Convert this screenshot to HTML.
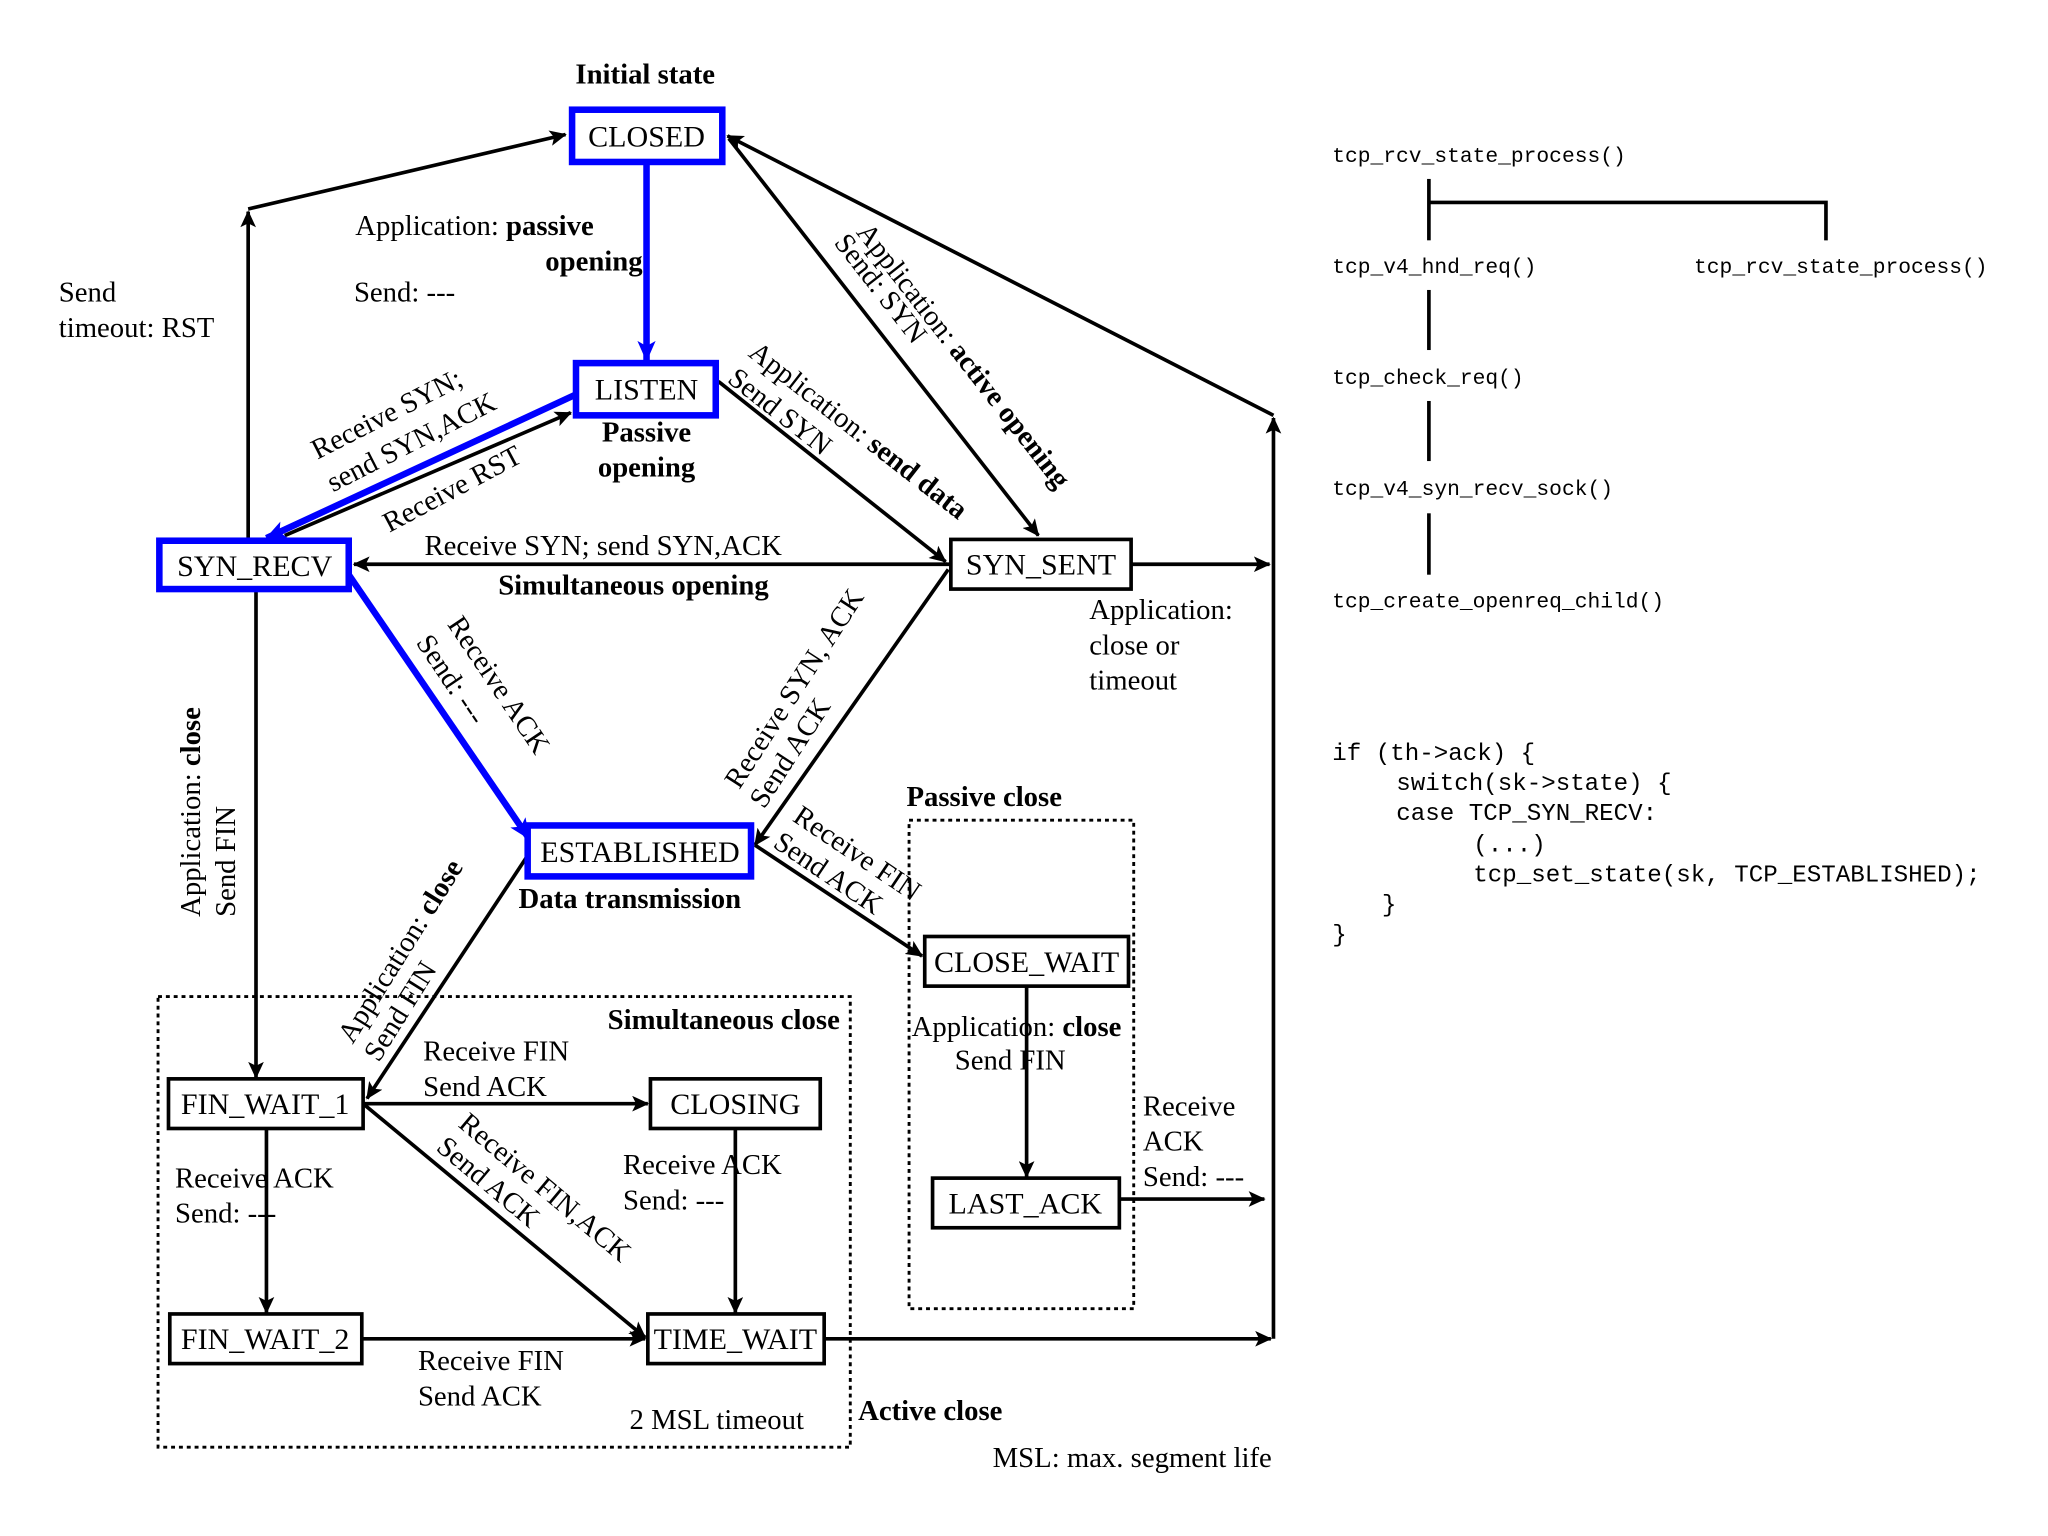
<!DOCTYPE html>
<html><head><meta charset="utf-8"><style>
html,body{margin:0;padding:0;background:#fff;}
svg{display:block;}
text{font-family:"Liberation Serif","Times New Roman",serif;font-size:22px;fill:#000;}
.b{font-weight:bold;}
.st{font-size:23px;}
.m{font-family:"Liberation Mono",monospace;font-size:16.3px;}
.c{font-family:"Liberation Mono",monospace;font-size:18.5px;}
</style></head><body>
<svg width="2048" height="1536" viewBox="0 0 1568 1176" xmlns="http://www.w3.org/2000/svg">
<defs>
<marker id="a" markerWidth="13" markerHeight="12" refX="12" refY="6" orient="auto" markerUnits="userSpaceOnUse"><path d="M0,0 L13,6 L0,12 L3,6 z" fill="#000"/></marker>
<marker id="ab" markerWidth="16" markerHeight="14" refX="15" refY="7" orient="auto" markerUnits="userSpaceOnUse"><path d="M0,0 L16,7 L0,14 L4,7 z" fill="#00f"/></marker>
</defs>
<g stroke="#000" stroke-width="2.8" fill="none">
<line x1="190" y1="414" x2="190" y2="162" marker-end="url(#a)"/>
<line x1="190" y1="160" x2="433" y2="103" marker-end="url(#a)"/>
<line x1="218" y1="410" x2="437" y2="316" marker-end="url(#a)"/>
<line x1="550" y1="292" x2="724" y2="430" marker-end="url(#a)"/>
<line x1="558" y1="106" x2="795" y2="410" marker-end="url(#a)"/>
<line x1="975" y1="318" x2="557" y2="104" marker-end="url(#a)"/>
<line x1="975" y1="1025" x2="975" y2="320" marker-end="url(#a)"/>
<line x1="866" y1="432" x2="972" y2="432" marker-end="url(#a)"/>
<line x1="728" y1="432" x2="271" y2="432" marker-end="url(#a)"/>
<line x1="726" y1="436" x2="578" y2="647" marker-end="url(#a)"/>
<line x1="578" y1="647" x2="706" y2="732" marker-end="url(#a)"/>
<line x1="404" y1="655" x2="281" y2="841" marker-end="url(#a)"/>
<line x1="196" y1="451" x2="196" y2="825" marker-end="url(#a)"/>
<line x1="278" y1="845" x2="496" y2="845" marker-end="url(#a)"/>
<line x1="278" y1="845" x2="494" y2="1024" marker-end="url(#a)"/>
<line x1="204" y1="864" x2="204" y2="1005" marker-end="url(#a)"/>
<line x1="563" y1="864" x2="563" y2="1005" marker-end="url(#a)"/>
<line x1="277" y1="1025" x2="494" y2="1025" marker-end="url(#a)"/>
<line x1="631" y1="1025" x2="973" y2="1025" marker-end="url(#a)"/>
<line x1="786" y1="755" x2="786" y2="901" marker-end="url(#a)"/>
<line x1="857" y1="918" x2="968" y2="918" marker-end="url(#a)"/>
</g>
<g stroke="#00f" stroke-width="5" fill="none">
<line x1="495" y1="124" x2="495" y2="276" marker-end="url(#ab)"/>
<line x1="441" y1="302" x2="204" y2="412" marker-end="url(#ab)"/>
<line x1="267" y1="440" x2="405" y2="642" marker-end="url(#ab)"/>
</g>
<g stroke="#000" stroke-width="2.2" stroke-dasharray="3,3" fill="none">
<rect x="121" y="763" width="530" height="345"/>
<rect x="696" y="628" width="172" height="374"/>
</g>
<g fill="#fff">
<rect x="438" y="84" width="115" height="40" stroke="#00f" stroke-width="5"/>
<rect x="441" y="278" width="107" height="40" stroke="#00f" stroke-width="5"/>
<rect x="122" y="414" width="145" height="37" stroke="#00f" stroke-width="5"/>
<rect x="404" y="632" width="171" height="39" stroke="#00f" stroke-width="5"/>
<g stroke="#000" stroke-width="2.8">
<rect x="728" y="413" width="138" height="38"/>
<rect x="708" y="717" width="156" height="38"/>
<rect x="129" y="826" width="149" height="38"/>
<rect x="498" y="826" width="130" height="38"/>
<rect x="714" y="902" width="143" height="38"/>
<rect x="130" y="1006" width="147" height="38"/>
<rect x="496" y="1006" width="135" height="38"/>
</g>
</g>
<g class="st">
<text x="495" y="112" text-anchor="middle" class="st">CLOSED</text>
<text x="495" y="306" text-anchor="middle" class="st">LISTEN</text>
<text x="195" y="441" text-anchor="middle" class="st">SYN_RECV</text>
<text x="797" y="440" text-anchor="middle" class="st">SYN_SENT</text>
<text x="490" y="660" text-anchor="middle" class="st">ESTABLISHED</text>
<text x="786" y="744" text-anchor="middle" class="st">CLOSE_WAIT</text>
<text x="203" y="853" text-anchor="middle" class="st">FIN_WAIT_1</text>
<text x="563" y="853" text-anchor="middle" class="st">CLOSING</text>
<text x="785" y="929" text-anchor="middle" class="st">LAST_ACK</text>
<text x="203" y="1033" text-anchor="middle" class="st">FIN_WAIT_2</text>
<text x="563" y="1033" text-anchor="middle" class="st">TIME_WAIT</text>
</g>
<text x="494" y="64" text-anchor="middle" class="b">Initial state</text>
<text x="272" y="180">Application: <tspan class="b">passive</tspan></text>
<text x="492" y="207" text-anchor="end" class="b">opening</text>
<text x="271" y="231">Send: ---</text>
<text x="45" y="231">Send</text>
<text x="45" y="258">timeout: RST</text>
<text x="495" y="338" text-anchor="middle" class="b">Passive</text>
<text x="495" y="365" text-anchor="middle" class="b">opening</text>
<text x="325" y="425">Receive SYN; send SYN,ACK</text>
<text x="485" y="455" text-anchor="middle" class="b">Simultaneous opening</text>
<text x="834" y="474">Application:</text>
<text x="834" y="501">close or</text>
<text x="834" y="528">timeout</text>
<text x="694" y="617" class="b">Passive close</text>
<text x="397" y="695" class="b">Data transmission</text>
<text x="643" y="788" text-anchor="end" class="b">Simultaneous close</text>
<text x="324" y="812">Receive FIN</text>
<text x="324" y="839">Send ACK</text>
<text x="698" y="793">Application: <tspan class="b">close</tspan></text>
<text x="731" y="819">Send FIN</text>
<text x="134" y="909">Receive ACK</text>
<text x="134" y="936">Send: ---</text>
<text x="477" y="899">Receive ACK</text>
<text x="477" y="926">Send: ---</text>
<text x="875" y="854">Receive</text>
<text x="875" y="881">ACK</text>
<text x="875" y="908">Send: ---</text>
<text x="320" y="1049">Receive FIN</text>
<text x="320" y="1076">Send ACK</text>
<text x="482" y="1094">2 MSL timeout</text>
<text x="657" y="1087" class="b">Active close</text>
<text x="760" y="1123">MSL: max. segment life</text>
<text transform="translate(655,178) rotate(52)">Application: <tspan class="b">active opening</tspan></text>
<text transform="translate(638,186) rotate(52)">Send: SYN</text>
<text transform="translate(572,272) rotate(38)">Application: <tspan class="b">send data</tspan></text>
<text transform="translate(556,292) rotate(38)">Send SYN</text>
<text transform="translate(243,352) rotate(-27)">Receive SYN;</text>
<text transform="translate(255,377) rotate(-27)">send SYN,ACK</text>
<text transform="translate(298,408) rotate(-28)">Receive RST</text>
<text transform="translate(342,478) rotate(56)">Receive ACK</text>
<text transform="translate(318,492) rotate(56)">Send: ---</text>
<text transform="translate(566,605) rotate(-57)">Receive SYN, ACK</text>
<text transform="translate(585,620) rotate(-57)">Send ACK</text>
<text transform="translate(606,628) rotate(34)">Receive FIN</text>
<text transform="translate(591,648) rotate(34)">Send ACK</text>
<text transform="translate(270,800) rotate(-58)">Application: <tspan class="b">close</tspan></text>
<text transform="translate(290,814) rotate(-58)">Send FIN</text>
<text transform="translate(153,702) rotate(-90)">Application: <tspan class="b">close</tspan></text>
<text transform="translate(180,702) rotate(-90)">Send FIN</text>
<text transform="translate(350,862) rotate(40)">Receive FIN,ACK</text>
<text transform="translate(333,880) rotate(40)">Send ACK</text>
<g stroke="#000" stroke-width="2.8" fill="none">
<polyline points="1094,137 1094,184"/>
<polyline points="1094,155 1398,155 1398,184"/>
<line x1="1094" y1="222" x2="1094" y2="268"/>
<line x1="1094" y1="307" x2="1094" y2="353"/>
<line x1="1094" y1="393" x2="1094" y2="440"/>
</g>
<text x="1020" y="124" class="m">tcp_rcv_state_process()</text>
<text x="1020" y="209" class="m">tcp_v4_hnd_req()</text>
<text x="1297" y="209" class="m">tcp_rcv_state_process()</text>
<text x="1020" y="294" class="m">tcp_check_req()</text>
<text x="1020" y="379" class="m">tcp_v4_syn_recv_sock()</text>
<text x="1020" y="465" class="m">tcp_create_openreq_child()</text>
<text x="1020" y="582" class="c">if (th-&gt;ack) {</text>
<text x="1069" y="605" class="c">switch(sk-&gt;state) {</text>
<text x="1069" y="628" class="c">case TCP_SYN_RECV:</text>
<text x="1128" y="652" class="c">(...)</text>
<text x="1128" y="675" class="c">tcp_set_state(sk, TCP_ESTABLISHED);</text>
<text x="1058" y="698" class="c">}</text>
<text x="1020" y="721" class="c">}</text>
</svg>
</body></html>
